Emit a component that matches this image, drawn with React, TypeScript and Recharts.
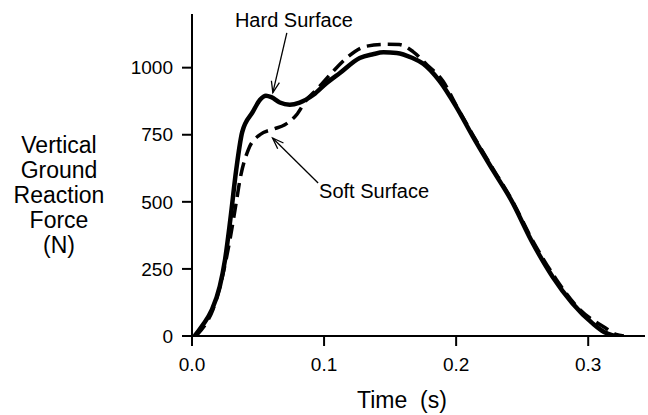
import React from "react";
import { LineChart, Line, XAxis, YAxis, Label, ReferenceLine, ReferenceDot } from "recharts";

const hardTime = [0.002, 0.008, 0.015, 0.021, 0.025, 0.029, 0.0335, 0.038, 0.046, 0.0515, 0.056, 0.06, 0.0665, 0.074, 0.0815, 0.092, 0.102, 0.112, 0.127, 0.137, 0.145, 0.155, 0.167, 0.175, 0.1875, 0.2, 0.2126, 0.2277, 0.2416, 0.258, 0.273, 0.288, 0.3033, 0.312, 0.318, 0.32];
const hardForce = [0, 40, 97, 184, 284, 433, 620, 760, 835, 880, 895, 890, 870, 862, 870, 899, 943, 980, 1036, 1050, 1057, 1055, 1036, 1015, 950, 855, 744, 619, 507, 346, 221, 122, 47, 15, 3, 0];

const softTime = [0.003, 0.009, 0.016, 0.0224, 0.0287, 0.0338, 0.0363, 0.0426, 0.0514, 0.0615, 0.0703, 0.0791, 0.0867, 0.0943, 0.1068, 0.117, 0.132, 0.147, 0.157, 0.1673, 0.178, 0.19, 0.2, 0.2126, 0.2277, 0.2416, 0.258, 0.2757, 0.2933, 0.3134, 0.321, 0.327];
const softForce = [0, 35, 100, 209, 358, 507, 582, 694, 750, 771, 787, 824, 880, 918, 986, 1036, 1080, 1087, 1086, 1060, 1010, 950, 860, 750, 625, 512, 355, 212, 100, 29, 6, 0];

const xTicks = [0, 0.1, 0.2, 0.3];
const yTicks = [0, 250, 500, 750, 1000];
const yLabelLines = ["Vertical", "Ground", "Reaction", "Force", "(N)"];
const xLabelText = "Time\u00a0\u00a0(s)";
const hardLabel = "Hard Surface";
const softLabel = "Soft Surface";

const hardData = hardTime.map((t, i) => ({ t, v: hardForce[i] }));
const softData = softTime.map((t, i) => ({ t, v: softForce[i] }));

const FONT = "'Liberation Sans', Arial, Helvetica, sans-serif";

const Arrow = (props: any) => {
  const { x1, y1, x2, y2 } = props;
  const ang = Math.atan2(y2 - y1, x2 - x1);
  const L = 12;
  const a = (20 * Math.PI) / 180;
  const ax1 = x2 - L * Math.cos(ang - a);
  const ay1 = y2 - L * Math.sin(ang - a);
  const ax2 = x2 - L * Math.cos(ang + a);
  const ay2 = y2 - L * Math.sin(ang + a);
  return (
    <g stroke="#000" strokeWidth={1.3} fill="none">
      <line x1={x1} y1={y1} x2={x2} y2={y2} />
      <polyline points={`${ax1},${ay1} ${x2},${y2} ${ax2},${ay2}`} />
    </g>
  );
};

const makeText = (txt: string) => (props: any) => (
  <text x={props.cx} y={props.cy} fontSize={20} fontFamily={FONT} fill="#000">
    {txt}
  </text>
);

export default function App() {
  return (
    <div style={{ position: "absolute", left: 0, top: 0, background: "#fff" }}>
      <LineChart width={648} height={415} margin={{ top: 14, right: 3, left: 0, bottom: 0 }}>
        <XAxis
          type="number"
          dataKey="t"
          domain={[0, 0.343]}
          ticks={xTicks}
          allowDataOverflow
          tickFormatter={(v: number) => v.toFixed(1)}
          height={79}
          tickSize={10}
          tickMargin={12}
          stroke="#000"
          strokeWidth={2}
          tick={{ fill: "#000", fontSize: 19, fontFamily: FONT }}
        >
          <Label
            content={(p: any) => (
              <text x={p.viewBox.x + 210} y={p.viewBox.y + 72} textAnchor="middle" fontSize={23} fontFamily={FONT} fill="#000">
                {xLabelText}
              </text>
            )}
          />
        </XAxis>
        <YAxis
          type="number"
          dataKey="v"
          domain={[0, 1200]}
          ticks={yTicks}
          allowDataOverflow
          width={192}
          tickSize={10}
          tickMargin={9}
          stroke="#000"
          strokeWidth={2}
          tick={{ fill: "#000", fontSize: 19, fontFamily: FONT }}
        >
          <Label
            content={(p: any) => (
              <text textAnchor="middle" fontSize={23} fontFamily={FONT} fill="#000">
                {yLabelLines.map((l, i) => (
                  <tspan key={i} x={p.viewBox.x + 59} y={p.viewBox.y + 139 + i * 25}>
                    {l}
                  </tspan>
                ))}
              </text>
            )}
          />
        </YAxis>
        <Line
          data={softData}
          dataKey="v"
          type="monotone"
          stroke="#000"
          strokeWidth={3.5}
          strokeDasharray="14 7"
          dot={false}
          isAnimationActive={false}
        />
        <Line
          data={hardData}
          dataKey="v"
          type="monotone"
          stroke="#000"
          strokeWidth={4.5}
          dot={false}
          isAnimationActive={false}
        />
        <ReferenceLine
          segment={[{ x: 0.0718, y: 1130 }, { x: 0.0612, y: 907 }]}
          shape={Arrow}
        />
        <ReferenceLine
          segment={[{ x: 0.0955, y: 570 }, { x: 0.061, y: 738 }]}
          shape={Arrow}
        />
        <ReferenceDot x={0.0325} y={1153} r={0} shape={makeText(hardLabel)} />
        <ReferenceDot x={0.0962} y={514} r={0} shape={makeText(softLabel)} />
      </LineChart>
    </div>
  );
}
